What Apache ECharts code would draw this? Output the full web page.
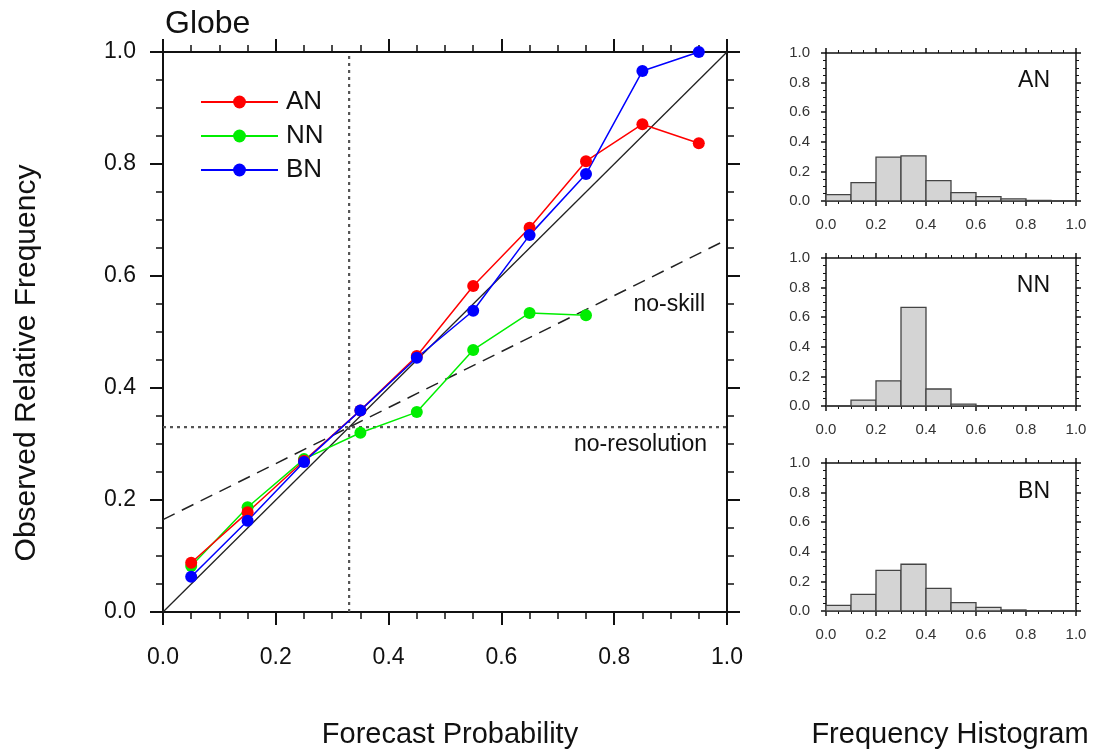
<!DOCTYPE html>
<html>
<head>
<meta charset="utf-8">
<script src="https://cdn.jsdelivr.net/npm/echarts@6/dist/echarts.min.js"></script>
<style>
html,body{margin:0;padding:0;background:#fff;}
#c{width:1102px;height:756px;}
</style>
</head>
<body>
<div id="c"></div>
<script>
// ---- data ----
const forecastProb = [0.05, 0.15, 0.25, 0.35, 0.45, 0.55, 0.65, 0.75, 0.85, 0.95];
const anObs = [0.088, 0.178, 0.270, 0.360, 0.457, 0.582, 0.686, 0.805, 0.871, 0.837];
const nnObs = [0.082, 0.187, 0.273, 0.320, 0.357, 0.468, 0.534, 0.530];
const bnObs = [0.063, 0.163, 0.268, 0.360, 0.454, 0.538, 0.673, 0.782, 0.966, 1.000];
const climatology = 0.33;
const perfectLine = [[0, 0], [1, 1]];
const noSkillLine = [[0, 0.165], [1, 0.665]];
const binEdges = [0.0, 0.1, 0.2, 0.3, 0.4, 0.5, 0.6, 0.7, 0.8, 0.9, 1.0];
const anHist = [0.043, 0.124, 0.296, 0.305, 0.138, 0.056, 0.030, 0.015, 0.004, 0.001];
const nnHist = [0.000, 0.040, 0.170, 0.666, 0.115, 0.013, 0.002, 0.000, 0.000, 0.000];
const bnHist = [0.038, 0.113, 0.275, 0.316, 0.153, 0.056, 0.025, 0.007, 0.002, 0.000];
const categories = ['AN', 'NN', 'BN'];
const tickLabels = ['0.0', '0.2', '0.4', '0.6', '0.8', '1.0'];

const FONT = 'Liberation Sans, Arial, Helvetica, sans-serif';
const chart = echarts.init(document.getElementById('c'), null, {renderer: 'canvas'});

const grids = [
  {left: 163, top: 52, width: 564, height: 560},
  {left: 826, top: 53, width: 250, height: 148},
  {left: 826, top: 258, width: 250, height: 148},
  {left: 826, top: 463, width: 250, height: 148}
];

function fmt(v) {
  const i = Math.round(v * 5);
  return tickLabels[i] !== undefined ? tickLabels[i] : v.toFixed(1);
}

function mkAxis(kind, gi, pos, showLabel, big) {
  return {
    type: 'value', gridIndex: gi, position: pos, min: 0, max: 1, interval: 0.2,
    axisLine: {show: true, onZero: false, lineStyle: {color: '#111', width: big ? 2 : 1.5}},
    axisTick: {show: true, inside: false, length: big ? 13 : 5, lineStyle: {color: '#111', width: big ? 2 : 1.5}},
    minorTick: {show: true, splitNumber: 4, length: big ? 7 : 3, lineStyle: {color: '#111', width: big ? 1.5 : 1}},
    splitLine: {show: false},
    axisLabel: {
      show: showLabel, formatter: fmt, fontFamily: FONT,
      fontSize: big ? 23 : 15, color: big ? '#111' : '#333',
      margin: big ? (kind === 'x' ? 34 : 27) : 16
    }
  };
}

const xAxes = [], yAxes = [];
grids.forEach((g, gi) => {
  const big = gi === 0;
  xAxes.push(mkAxis('x', gi, 'bottom', true, big));
  xAxes.push(mkAxis('x', gi, 'top', false, big));
  yAxes.push(mkAxis('y', gi, 'left', true, big));
  yAxes.push(mkAxis('y', gi, 'right', false, big));
});

function pairs(xs, ys) { return ys.map((y, i) => [xs[i], y]); }

const series = [];
// reference lines
series.push({type: 'line', name: 'perfect', xAxisIndex: 0, yAxisIndex: 0, data: perfectLine,
  symbol: 'none', lineStyle: {color: '#222', width: 1.3}, silent: true, z: 1, animation: false});
series.push({type: 'line', name: 'no-skill', xAxisIndex: 0, yAxisIndex: 0, data: noSkillLine,
  symbol: 'none', lineStyle: {color: '#222', width: 1.5, type: [13, 8]}, silent: true, z: 1, animation: false});
series.push({type: 'line', name: 'no-resolution', xAxisIndex: 0, yAxisIndex: 0,
  data: [[0, climatology], [1, climatology]],
  symbol: 'none', lineStyle: {color: '#555', width: 2.2, type: [3, 4]}, silent: true, z: 1, animation: false});
series.push({type: 'line', name: 'clim-x', xAxisIndex: 0, yAxisIndex: 0,
  data: [[climatology, 0], [climatology, 1]],
  symbol: 'none', lineStyle: {color: '#555', width: 2.2, type: [3, 4]}, silent: true, z: 1, animation: false});

const colors = {AN: '#ff0000', NN: '#00ee00', BN: '#0000ff'};
const obs = {AN: anObs, NN: nnObs, BN: bnObs};
['NN', 'AN', 'BN'].forEach(k => {
  series.push({type: 'line', name: k, xAxisIndex: 0, yAxisIndex: 0,
    data: pairs(forecastProb, obs[k]), symbol: 'circle', symbolSize: 12,
    itemStyle: {color: colors[k]}, lineStyle: {color: colors[k], width: 1.5},
    z: 3, animation: false});
});

const hists = [anHist, nnHist, bnHist];
hists.forEach((h, i) => {
  const data = h.map((v, j) => [binEdges[j], binEdges[j + 1], v]);
  series.push({type: 'custom', name: 'hist' + categories[i], xAxisIndex: 2 * (i + 1), yAxisIndex: 2 * (i + 1),
    data: data, animation: false, z: 2,
    renderItem: function (params, api) {
      const p0 = api.coord([api.value(0), 0]);
      const p1 = api.coord([api.value(1), api.value(2)]);
      return {type: 'rect',
        shape: {x: p0[0], y: p1[1], width: p1[0] - p0[0], height: p0[1] - p1[1]},
        style: {fill: '#d4d4d4', stroke: '#444', lineWidth: 1.3}};
    }
  });
});

const graphics = [
  {type: 'text', left: 165, top: 8, style: {text: 'Globe', font: '32px ' + FONT, fill: '#111'}},
  {type: 'text', x: 450, y: 735, style: {text: 'Forecast Probability', font: '29px ' + FONT, fill: '#111', align: 'center', verticalAlign: 'middle'}},
  {type: 'text', x: 950, y: 735, style: {text: 'Frequency Histogram', font: '29px ' + FONT, fill: '#111', align: 'center', verticalAlign: 'middle'}},
  {type: 'text', x: 27, y: 363, rotation: Math.PI / 2, style: {text: 'Observed Relative Frequency', font: '30px ' + FONT, fill: '#111', align: 'center', verticalAlign: 'middle'}},
  {type: 'text', x: 705, y: 305, style: {text: 'no-skill', font: '23px ' + FONT, fill: '#111', align: 'right', verticalAlign: 'middle'}},
  {type: 'text', x: 707, y: 445, style: {text: 'no-resolution', font: '23px ' + FONT, fill: '#111', align: 'right', verticalAlign: 'middle'}}
];
const panelY = [81, 286, 492];
categories.forEach((c, i) => {
  graphics.push({type: 'text', x: 1050, y: panelY[i], style: {text: c, font: '23px ' + FONT, fill: '#111', align: 'right', verticalAlign: 'middle'}});
});

chart.setOption({
  animation: false,
  backgroundColor: '#fff',
  grid: grids,
  xAxis: xAxes,
  yAxis: yAxes,
  legend: {
    data: categories, orient: 'vertical', left: 195, top: 83,
    itemWidth: 77, itemHeight: 16, itemGap: 6,
    textStyle: {fontFamily: FONT, fontSize: 26, color: '#111', lineHeight: 28, padding: [0, 0, 0, 3]},
    selectedMode: false
  },
  graphic: graphics,
  series: series
});
</script>
</body>
</html>
